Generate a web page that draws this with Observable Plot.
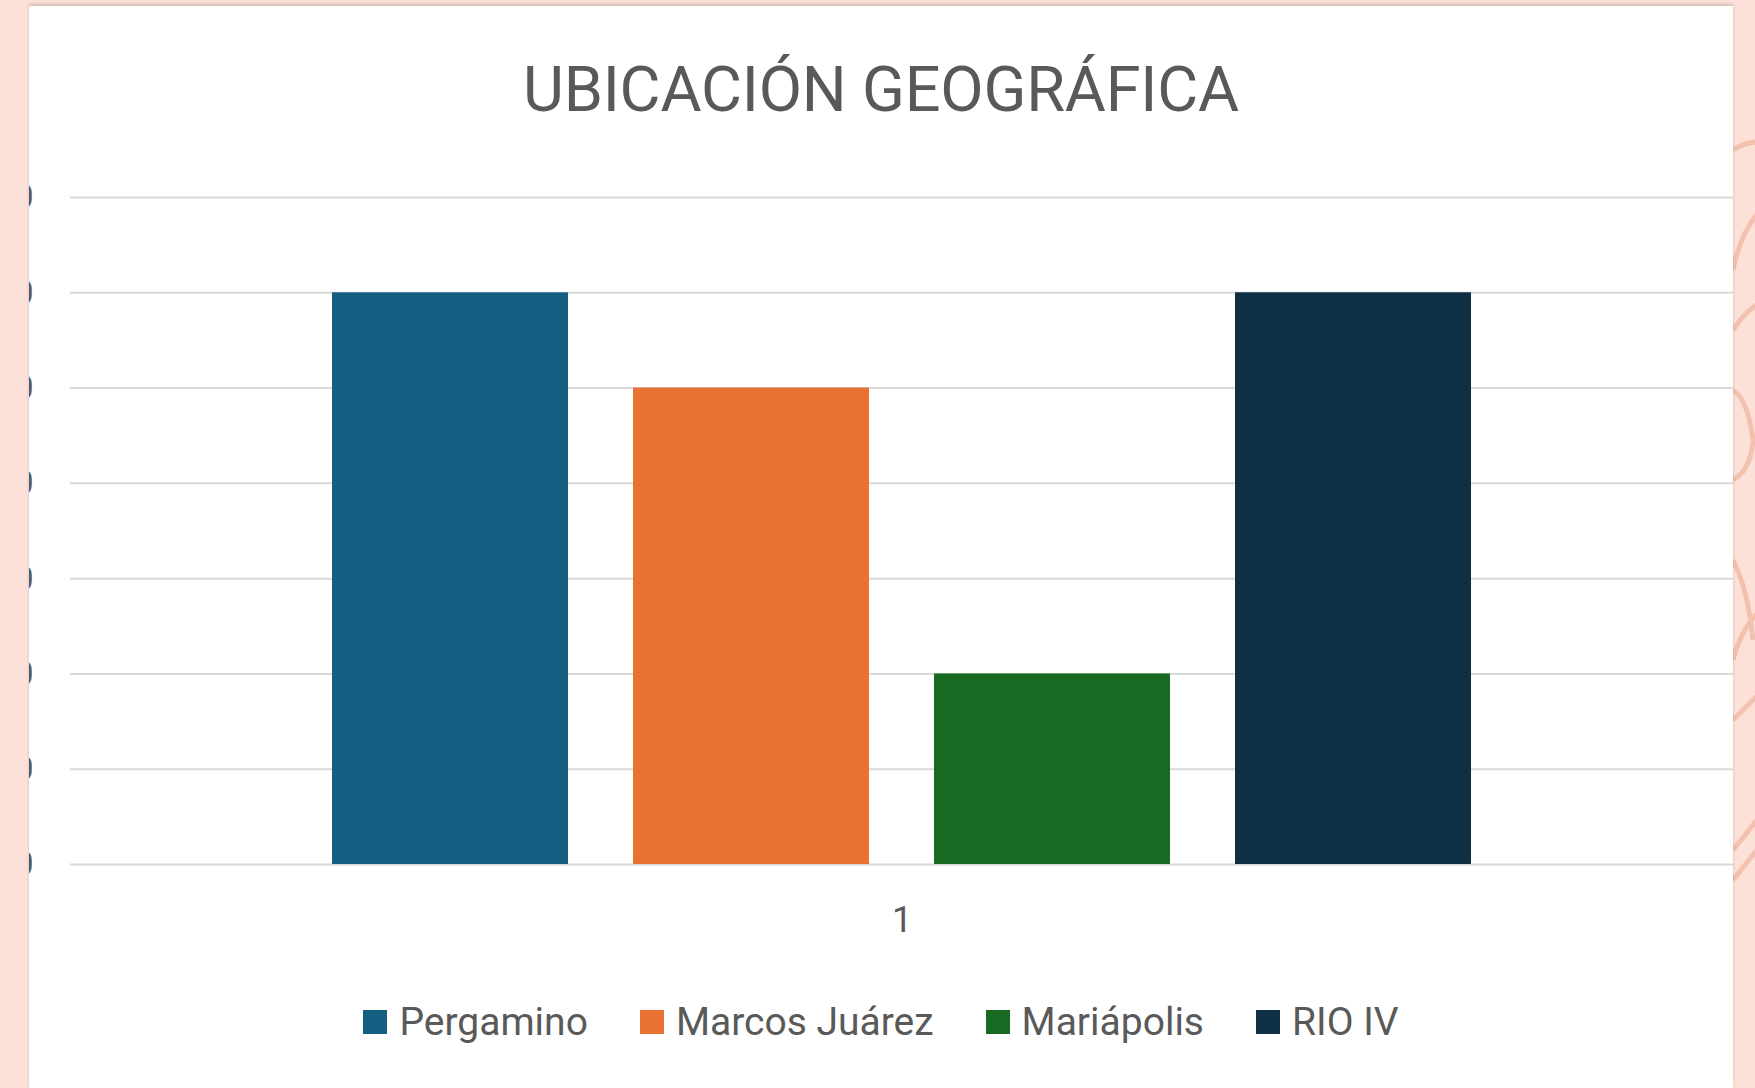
<!DOCTYPE html>
<html>
<head>
<meta charset="utf-8">
<script src="https://cdn.jsdelivr.net/npm/d3@7"></script>
<script src="https://cdn.jsdelivr.net/npm/@observablehq/plot@0.6"></script>
<style>
  html, body { margin: 0; padding: 0; }
  body { width: 1755px; height: 1088px; overflow: hidden; background: #fde1d9; position: relative; font-family: Roboto, "Liberation Sans", sans-serif; }
  #panel { position: absolute; left: 29px; top: 6px; width: 1704px; height: 1082px; background: #ffffff; box-shadow: 0 -2px 3px rgba(0,0,0,0.18); }
  #title { position: absolute; left: 0; top: 0; width: 1704px; height: 168px; line-height: 168px; text-align: center; font-size: 63px; color: #595959; letter-spacing: -0.2px; }
  #chart { position: absolute; left: 0; top: 150px; }
  #legend { position: absolute; left: 0; top: 988px; width: 1704px; height: 56px; display: flex; justify-content: center; align-items: center; }
  .leg-swatches { font-size: 39px !important; color: #595959 !important; font-family: Roboto, "Liberation Sans", sans-serif !important; margin: 0 !important; display: flex; align-items: center; min-height: 0 !important; }
  .leg-swatch { margin-right: 52px !important; }
  .leg-swatch:last-child { margin-right: 0 !important; }
  .leg-swatch > svg { margin-right: 12px !important; }
  #decor { position: absolute; left: 1733px; top: 0; }
</style>
</head>
<body>
<svg id="decor" width="22" height="1088" viewBox="0 0 22 1088">
  <g fill="none" stroke="#f3c2ae" stroke-width="5">
    <path d="M0 150 Q30 130 60 160"/>
    <path d="M0 270 Q10 220 40 200"/>
    <path d="M0 330 Q20 300 40 300"/>
    <path d="M0 390 Q15 400 20 440 Q18 470 0 480"/>
    <path d="M0 560 Q15 590 20 640"/>
    <path d="M0 660 Q10 620 40 600"/>
    <path d="M0 720 L40 680"/>
    <path d="M0 850 L40 800"/>
    <path d="M0 880 L40 830"/>
  </g>
</svg>
<div id="panel">
  <div id="title">UBICACIÓN GEOGRÁFICA</div>
  <div id="chart"></div>
  <div id="legend"></div>
</div>
<script>
const category = ["1"];
const series = ["Pergamino", "Marcos Juárez", "Mariápolis", "RIO IV"];
const values = [6, 5, 2, 6];
const colors = ["#156082", "#E97132", "#196B24", "#0E2F44"];
const yTicks = [0, 1, 2, 3, 4, 5, 6, 7];

const data = series.map((s, i) => ({cat: category[0], series: s, value: values[i]}));

const chart = Plot.plot({
  width: 1704,
  height: 798,
  marginLeft: 41,
  marginRight: 0,
  marginTop: 41,
  marginBottom: 90,
  style: {background: "transparent", overflow: "hidden", fontFamily: "Roboto, 'Liberation Sans', sans-serif", color: "#595959"},
  fx: {domain: category, padding: 0, label: null},
  x: {domain: series, paddingInner: 0.216, paddingOuter: 0.867, axis: null},
  y: {domain: [0, 7], label: null},
  color: {domain: series, range: colors},
  marks: [
    Plot.gridY(yTicks, {stroke: "#d9d9d9", strokeWidth: 2, strokeOpacity: 1}),
    Plot.axisY(yTicks, {tickSize: 0, tickPadding: 37, fontSize: 34, label: null, fill: "#595959"}),
    Plot.barY(data, {fx: "cat", x: "series", y: "value", fill: "series"}),
    Plot.axisFx({anchor: "bottom", tickSize: 0, tickPadding: 42, fontSize: 36, label: null, fill: "#595959"})
  ]
});
document.getElementById("chart").appendChild(chart);

const legend = Plot.legend({
  color: {domain: series, range: colors},
  legend: "swatches",
  swatchSize: 24,
  className: "leg"
});
document.getElementById("legend").appendChild(legend);
</script>
</body>
</html>
